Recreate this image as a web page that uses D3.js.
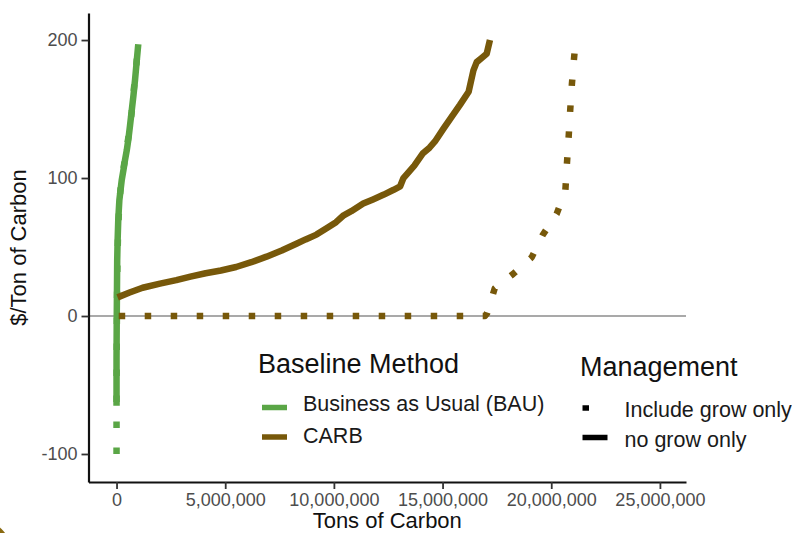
<!DOCTYPE html>
<html>
<head>
<meta charset="utf-8">
<script src="https://cdn.jsdelivr.net/npm/d3@7"></script>
<style>
  html, body { margin: 0; padding: 0; background: #fff; }
  svg { display: block; font-family: "Liberation Sans", Arial, sans-serif; }
</style>
</head>
<body>
<svg id="chart" width="792" height="533"></svg>
<script>
// ---------- data (tons of carbon, $/ton) ----------
const baselineMethods = ["Business as Usual (BAU)", "CARB"];
const managementTypes = ["Include grow only", "no grow only"];

const bauNoGrowX = [0, 0, 10000, 20000, 30000, 50000, 80000, 130000, 160000, 240000, 320000, 390000, 470000, 540000, 620000, 700000, 780000, 850000, 930000, 1000000];
const bauNoGrowY = [-65, -30, 0, 20, 40, 55, 70, 84, 88, 98.6, 106, 113, 120, 127.5, 138, 149, 160, 171, 185, 197];

const bauIncludeX = [0, 0, 10000, 20000, 40000, 70000, 120000, 200000, 300000, 400000, 500000, 600000, 700000, 800000, 900000, 980000];
const bauIncludeY = [-100, -60, -20, 10, 40, 60, 80, 95, 105, 115, 125, 135, 148, 165, 180, 195];

const carbNoGrowX = [50000, 600000, 1200000, 2000000, 2750000, 3400000, 4100000, 4800000, 5500000, 6200000, 6900000, 7600000, 8300000, 8700000, 9200000, 9700000, 10100000, 10450000, 10800000, 11350000, 11800000, 12300000, 12750000, 13050000, 13200000, 13700000, 14100000, 14400000, 14650000, 15050000, 15400000, 15800000, 16200000, 16420000, 16570000, 16800000, 17030000, 17180000];
const carbNoGrowY = [13.5, 17, 20.5, 23.5, 26, 28.5, 31, 33, 35.5, 39, 43, 47.5, 52.5, 55.5, 59, 64, 68, 73, 76, 81.5, 84.5, 88, 91.5, 94, 100, 109, 118, 122, 126.5, 136, 144, 153, 162.5, 178, 184, 187, 190, 200];

const carbIncludeX = [100000, 3000000, 6000000, 9000000, 12000000, 15000000, 16950000, 17050000, 17400000, 18250000, 19100000, 19600000, 20250000, 20650000, 20720000, 20800000, 20870000, 20950000, 21050000, 21100000, 21120000];
const carbIncludeY = [0, 0, 0, 0, 0, 0, 0, 2, 20, 30.5, 42.5, 58.5, 74, 91, 110, 129.5, 148.5, 168, 187, 195.5, 200];

const xTicks = [0, 5000000, 10000000, 15000000, 20000000, 25000000];
const yTicks = [-100, 0, 100, 200];

const colors = { "Business as Usual (BAU)": "#5aa646", "CARB": "#77580a" };

// ---------- layout ----------
const svg = d3.select("#chart");
const pLeft = 88.5, pRight = 686, pTop = 13, pBottom = 482;

const x = d3.scaleLinear().domain([-1290000, 26200000]).range([pLeft, pRight]);
const y = d3.scaleLinear().domain([-120.3, 219.6]).range([pBottom, pTop]);

const lineW = 6.5;
const dotted = `${lineW},${lineW * 3}`;

// bottom-left corner artifact
svg.append("circle").attr("cx", -22).attr("cy", 552).attr("r", 30)
  .attr("fill", "none").attr("stroke", "#8a6a12").attr("stroke-width", 6);

// zero reference line
svg.append("line")
  .attr("x1", pLeft).attr("x2", pRight)
  .attr("y1", y(0)).attr("y2", y(0))
  .attr("stroke", "#8c8c8c").attr("stroke-width", 1.6);

const series = [
  { method: "Business as Usual (BAU)", mgmt: "no grow only", xs: bauNoGrowX, ys: bauNoGrowY },
  { method: "Business as Usual (BAU)", mgmt: "Include grow only", xs: bauIncludeX, ys: bauIncludeY },
  { method: "CARB", mgmt: "no grow only", xs: carbNoGrowX, ys: carbNoGrowY },
  { method: "CARB", mgmt: "Include grow only", xs: carbIncludeX, ys: carbIncludeY }
];

const line = d3.line().x(d => x(d[0])).y(d => y(d[1]));

series.forEach(s => {
  const pts = s.xs.map((v, i) => [v, s.ys[i]]);
  const p = svg.append("path")
    .attr("d", line(pts))
    .attr("fill", "none")
    .attr("stroke", colors[s.method])
    .attr("stroke-width", lineW)
    .attr("stroke-linejoin", "round")
    .attr("stroke-linecap", "butt");
  if (s.mgmt === "Include grow only") p.attr("stroke-dasharray", dotted);
});

// ---------- axes ----------
const yAxis = svg.append("g")
  .attr("transform", `translate(${pLeft},0)`)
  .call(d3.axisLeft(y).tickValues(yTicks).tickFormat(d => String(d)).tickSize(7).tickSizeOuter(0).tickPadding(4));
const xAxis = svg.append("g")
  .attr("transform", `translate(0,${pBottom})`)
  .call(d3.axisBottom(x).tickValues(xTicks).tickFormat(d3.format(",")).tickSize(7).tickSizeOuter(0).tickPadding(4));

[yAxis, xAxis].forEach(g => {
  g.select(".domain").attr("stroke", "#111").attr("stroke-width", 2.2);
  g.selectAll(".tick line").attr("stroke", "#333").attr("stroke-width", 1.8);
  g.selectAll(".tick text")
    .attr("fill", "#4d4d4d")
    .style("font-size", "18px")
    .style("font-family", "'Liberation Sans', Arial, sans-serif");
});

// axis titles
svg.append("text")
  .attr("x", (pLeft + pRight) / 2).attr("y", 528)
  .attr("text-anchor", "middle")
  .style("font-size", "22px").attr("fill", "#111")
  .text("Tons of Carbon");

svg.append("text")
  .attr("transform", `translate(26,${(pTop + pBottom) / 2}) rotate(-90)`)
  .attr("text-anchor", "middle")
  .style("font-size", "22px").attr("fill", "#111")
  .text("$/Ton of Carbon");

// ---------- legends ----------
const leg1 = svg.append("g");
leg1.append("text").attr("x", 258).attr("y", 373)
  .style("font-size", "27px").attr("fill", "#111").text("Baseline Method");
const leg1Rows = [411, 442.5];
const leg1KeyY = [407.5, 437];
baselineMethods.forEach((m, i) => {
  leg1.append("line")
    .attr("x1", 262).attr("x2", 287)
    .attr("y1", leg1KeyY[i]).attr("y2", leg1KeyY[i])
    .attr("stroke", colors[m]).attr("stroke-width", 5.5);
  leg1.append("text").attr("x", 303).attr("y", leg1Rows[i])
    .style("font-size", "21.5px").attr("fill", "#1a1a1a").text(m);
});

const leg2 = svg.append("g");
leg2.append("text").attr("x", 580).attr("y", 376)
  .style("font-size", "27px").attr("fill", "#111").text("Management");
const leg2Rows = [417, 446.5];
const leg2KeyY = [408, 437.5];
managementTypes.forEach((m, i) => {
  const k = leg2.append("line")
    .attr("x1", 582.5).attr("x2", 607.5)
    .attr("y1", leg2KeyY[i]).attr("y2", leg2KeyY[i])
    .attr("stroke", "#000").attr("stroke-width", 5.5);
  if (m === "Include grow only") k.attr("stroke-dasharray", "6.5,19.5");
  leg2.append("text").attr("x", 624.5).attr("y", leg2Rows[i])
    .style("font-size", "21.5px").attr("fill", "#1a1a1a").text(m);
});
</script>
</body>
</html>
